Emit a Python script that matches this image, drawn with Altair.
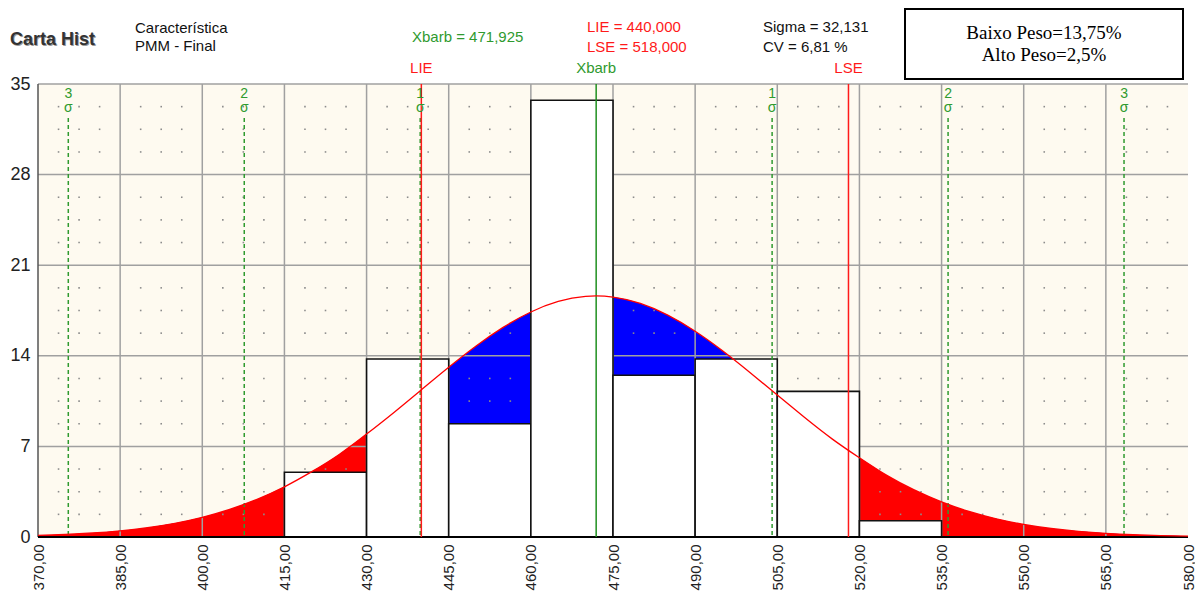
import altair as alt
import pandas as pd

# ---------------- data ----------------
bin_start = [415, 430, 445, 460, 475, 490, 505, 520]
bin_end = [430, 445, 460, 475, 490, 505, 520, 535]
freq_pct = [5.0, 13.75, 8.75, 33.75, 12.5, 13.75, 11.25, 1.25]

curve_x = [370, 375, 380, 385, 390, 395, 400, 405, 410, 415, 420, 425, 430, 435,
           440, 445, 450, 455, 460, 465, 470, 475, 480, 485, 490, 495, 500, 505,
           510, 515, 520, 525, 530, 535, 540, 545, 550, 555, 560, 565, 570, 575, 580]
curve_y = [0.122, 0.197, 0.311, 0.480, 0.722, 1.061, 1.521, 2.128, 2.907, 3.877,
           5.047, 6.374, 7.950, 9.623, 11.369, 13.110, 14.756, 16.212, 17.385,
           18.196, 18.591, 18.539, 18.045, 17.144, 15.899, 14.391, 12.714, 10.964,
           9.229, 7.582, 6.118, 4.760, 3.637, 2.712, 1.974, 1.403, 0.973, 0.659,
           0.435, 0.281, 0.177, 0.109, 0.065]

xbar = 471.925
sigma = 32.131
lie = 440.0
lse = 518.0
cv = 6.81
baixo_peso = "13,75%"
alto_peso = "2,5%"

x_ticks = [370, 385, 400, 415, 430, 445, 460, 475, 490, 505, 520, 535, 550, 565, 580]
y_ticks = [0, 7, 14, 21, 28, 35]

# ---------------- layout ----------------
W, H = 1150, 453
FONT = "Liberation Sans"
GREEN = "#2f9a2f"
RED = "#ff1a1a"

xs = alt.Scale(domain=[370, 580], nice=False, zero=False)
ys = alt.Scale(domain=[0, 35], nice=False, zero=False)
x_axis = alt.Axis(values=x_ticks, labelExpr="replace(format(datum.value, '.2f'), '.', ',')",
                  labelAngle=270, labelFontSize=15, labelFont=FONT, labelColor="#222222",
                  labelPadding=7, ticks=False, domain=False, grid=False, title=None,
                  labelOverlap=False, labelFlush=False)
y_axis = alt.Axis(values=y_ticks, labelFontSize=18, labelFont=FONT, labelColor="#222222",
                  labelPadding=8, ticks=False, domain=False, grid=False, title=None,
                  labelOverlap=False, labelFlush=False)

curve_df = pd.DataFrame({"cx": curve_x, "cy": curve_y})
bars_df = pd.DataFrame({"a": bin_start, "b": bin_end, "v": freq_pct})

X = alt.X("cx:Q", scale=xs, axis=x_axis)
Y = alt.Y("cy:Q", scale=ys, axis=y_axis)

area_blue = alt.Chart(curve_df).mark_area(color="#0000ff", interpolate="natural", clip=True).encode(x=X, y=Y)
area_red_l = alt.Chart(curve_df).transform_filter("datum.cx <= 445").mark_area(
    color="#ff0000", interpolate="natural", clip=True).encode(x=X, y=Y)
area_red_r = alt.Chart(curve_df).transform_filter("datum.cx >= 505").mark_area(
    color="#ff0000", interpolate="natural", clip=True).encode(x=X, y=Y)

# grid
hgrid = alt.Chart(pd.DataFrame({"cy": y_ticks[1:]})).mark_rule(color="#a0a0a0", strokeWidth=1.5).encode(
    y=Y, x=alt.value(0), x2=alt.value(W))
vgrid = alt.Chart(pd.DataFrame({"cx": x_ticks[1:-1]})).mark_rule(color="#a0a0a0", strokeWidth=1.5).encode(
    x=X, y=alt.value(0), y2=alt.value(H))

# decorative dots (quarter sub-grid)
dots = []
for i in range(len(x_ticks) - 1):
    for j in (1, 2, 3):
        for k in range(len(y_ticks) - 1):
            for m in (1, 2, 3):
                dots.append({"cx": x_ticks[i] + 3.75 * j, "cy": y_ticks[k] + 1.75 * m})
dots_layer = alt.Chart(pd.DataFrame(dots)).mark_square(size=2.5, color="#8c8c8c", opacity=1).encode(x=X, y=Y)

bars = alt.Chart(bars_df).mark_rect(fill="white", stroke="#111111", strokeWidth=1.6).encode(
    x=alt.X("a:Q", scale=xs, axis=x_axis), x2="b:Q",
    y=alt.Y("v:Q", scale=ys, axis=y_axis), y2=alt.datum(0))

left_border = alt.Chart(pd.DataFrame({"cx": [370]})).mark_rule(color="#555555", strokeWidth=1.5).encode(
    x=X, y=alt.value(0), y2=alt.value(H))
bottom_line = alt.Chart(pd.DataFrame({"cy": [0]})).mark_rule(color="#000000", strokeWidth=2).encode(
    y=Y, x=alt.value(0), x2=alt.value(W))

sig_df = pd.DataFrame({"cx": [xbar + k * sigma for k in (-3, -2, -1, 1, 2, 3)],
                       "k": ["3", "2", "1", "1", "2", "3"]})
sig_lines = alt.Chart(sig_df).mark_rule(color=GREEN, strokeWidth=1.5, strokeDash=[4, 3]).encode(
    x=X, y=alt.value(34), y2=alt.value(H))
sig_num = alt.Chart(sig_df).mark_text(font=FONT, fontSize=14, color=GREEN, baseline="middle").encode(
    x=X, y=alt.value(10), text="k:N")
sig_sym = alt.Chart(sig_df).mark_text(font=FONT, fontSize=14, color=GREEN, baseline="middle", text="σ").encode(
    x=X, y=alt.value(24))

spec_df = pd.DataFrame({"cx": [lie, lse], "lab": ["LIE", "LSE"]})
spec_lines = alt.Chart(spec_df).mark_rule(color=RED, strokeWidth=1.5).encode(
    x=X, y=alt.value(0), y2=alt.value(H))
spec_labels = alt.Chart(spec_df).mark_text(font=FONT, fontSize=15, color=RED, baseline="middle").encode(
    x=X, y=alt.value(-16), text="lab:N")
xbar_df = pd.DataFrame({"cx": [xbar], "lab": ["Xbarb"]})
xbar_line = alt.Chart(xbar_df).mark_rule(color="#1f8f1f", strokeWidth=1.5).encode(
    x=X, y=alt.value(0), y2=alt.value(H))
xbar_label = alt.Chart(xbar_df).mark_text(font=FONT, fontSize=15, color=GREEN, baseline="middle").encode(
    x=X, y=alt.value(-16), text="lab:N")

curve_line = alt.Chart(curve_df).mark_line(color="#ff0000", strokeWidth=1.3, interpolate="natural").encode(x=X, y=Y)


def txt(s, x, y, size=15, color="#111111", font=FONT, weight="normal", align="left"):
    return alt.Chart(pd.DataFrame({"t": [s]})).mark_text(
        align=align, baseline="middle", font=font, fontSize=size, color=color, fontWeight=weight
    ).encode(x=alt.value(x), y=alt.value(y), text="t:N")


def fmt(v, d):
    return f"{v:.{d}f}".replace(".", ",")


box = alt.Chart(pd.DataFrame({"t": [0]})).mark_rect(fill="white", stroke="#000000", strokeWidth=2).encode(
    x=alt.value(867), x2=alt.value(1145), y=alt.value(-75), y2=alt.value(-5))

texts = [
    txt("Carta Hist", -27, -43, size=18, color="#9a9a9a", weight="bold"),
    txt("Carta Hist", -28, -44, size=18, color="#333333", weight="bold"),
    txt("Característica", 97, -56),
    txt("PMM - Final", 97, -38),
    txt(f"Xbarb = {fmt(xbar, 3)}", 374, -47, color=GREEN),
    txt(f"LIE = {fmt(lie, 3)}", 549, -57, color=RED),
    txt(f"LSE = {fmt(lse, 3)}", 549, -37, color=RED),
    txt(f"Sigma = {fmt(sigma, 3)}", 725, -57),
    txt(f"CV = {fmt(cv, 2)} %", 725, -37),
    txt(f"Baixo Peso={baixo_peso}", 1006, -51, size=19, font="Liberation Serif", color="#000000", align="center"),
    txt(f"Alto Peso={alto_peso}", 1006, -29, size=19, font="Liberation Serif", color="#000000", align="center"),
]

chart = alt.layer(
    area_blue, area_red_l, area_red_r, hgrid, vgrid, dots_layer, bars, left_border, bottom_line,
    sig_lines, spec_lines, xbar_line, curve_line, sig_num, sig_sym, spec_labels, xbar_label,
    box, *texts
).properties(
    width=W, height=H,
    padding={"left": 30, "top": 76, "right": 7, "bottom": 55},
    autosize=alt.AutoSizeParams(type="none"),
    background="white",
).configure_view(fill="#fefaf0", stroke=None)

chart.save("out.html", embed_options={"renderer": "svg", "actions": False})
